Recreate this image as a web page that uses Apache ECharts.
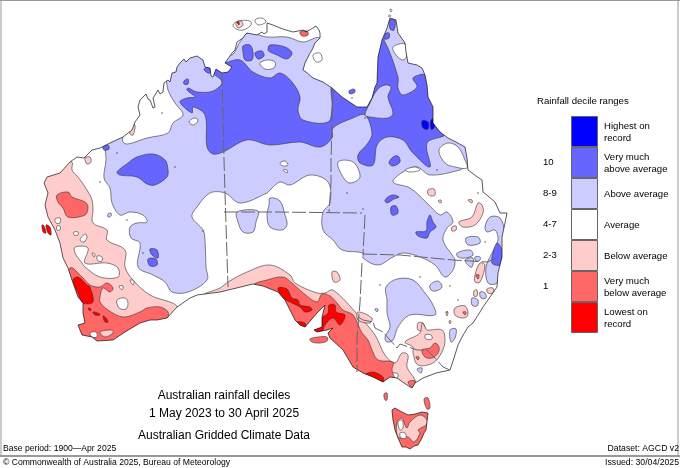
<!DOCTYPE html>
<html>
<head>
<meta charset="utf-8">
<script src="https://cdn.jsdelivr.net/npm/echarts@6/dist/echarts.min.js"></script>
<style>
  html, body { margin: 0; padding: 0; background: #fff; }
  #chart { width: 680px; height: 468px; }
</style>
</head>
<body>
<div id="chart"></div>
<script>
// map outlines are digitised in map-sheet units (0-680 across, 0-468 down)
const mainlandCoast = [[68,268],[63,258],[60,243],[55,230],[48,217],[45,205],[48,193],[44,183],[47,177],[60,173],[70,162],[77,157],[84,158],[92,150],[100,148],[112,142],[123,137],[132,130],[135,122],[140,115],[138,107],[140,100],[146,94],[148,99],[150,100],[153,108],[155,107],[153,98],[155,95],[158,90],[160,94],[163,92],[164,83],[168,80],[170,82],[172,73],[176,72],[177,67],[180,63],[184,59],[186,62],[190,58],[197,56],[203,60],[205,67],[210,68],[211,76],[213,77],[216,69],[222,73],[228,72],[232,67],[225,63],[232,53],[235,50],[237,42],[243,38],[245,35],[247,33],[257,35],[262,32],[264,34],[267,32],[267,23],[273,25],[280,28],[286,30],[293,32],[303,30],[306,32],[313,28],[316,26],[319,30],[320,33],[320,38],[315,43],[312,50],[310,53],[305,63],[303,70],[306,72],[313,78],[323,82],[332,88],[342,97],[357,107],[367,107],[372,98],[375,87],[377,83],[378,57],[382,40],[385,33],[387,28],[390,18],[396,20],[398,33],[405,43],[406,52],[408,63],[417,65],[422,68],[425,75],[427,85],[428,97],[433,107],[433,123],[440,132],[448,138],[456,142],[465,147],[467,158],[468,170],[472,173],[476,176],[482,180],[483,192],[488,196],[495,202],[500,213],[507,213],[505,223],[502,237],[502,257],[498,273],[497,287],[483,307],[480,312],[473,323],[468,327],[462,337],[458,345],[454,358],[450,370],[436,373],[423,378],[415,383],[412,388],[407,385],[397,378],[390,377],[383,382],[373,377],[363,373],[353,367],[343,350],[330,338],[328,333],[333,328],[327,330],[317,332],[314,330],[322,327],[322,317],[325,305],[318,312],[305,327],[300,325],[295,320],[285,300],[278,292],[263,286],[253,284],[220,292],[197,295],[190,298],[177,307],[167,318],[157,320],[150,320],[140,323],[125,332],[113,340],[97,341],[92,337],[82,335],[78,325],[85,323],[83,313],[83,303],[78,297],[72,280]];
const tasmaniaCoast = [[392,410],[395,408],[400,411],[408,415],[415,414],[422,412],[428,413],[427,422],[426,430],[424,433],[422,438],[418,445],[414,446],[410,449],[406,447],[402,447],[398,438],[395,430],[393,420]];

const aboveRegions = [
  [[105,145],[107,142],[122,135],[123,142],[128,144],[147,138],[168,133],[173,123],[183,115],[175,103],[168,90],[166,78],[160,60],[225,50],[232,55],[240,42],[248,33],[267,37],[287,37],[303,42],[320,38],[330,60],[345,90],[365,95],[372,70],[378,30],[385,12],[400,15],[412,55],[432,75],[440,105],[450,125],[470,140],[475,165],[465,167],[460,170],[430,175],[417,167],[403,172],[393,182],[410,188],[427,203],[440,215],[447,212],[453,222],[447,228],[443,240],[452,255],[455,260],[453,270],[445,277],[435,265],[420,257],[403,253],[393,257],[378,265],[363,258],[363,253],[342,250],[333,240],[323,230],[323,212],[330,203],[328,182],[310,175],[290,185],[280,182],[270,190],[267,193],[240,203],[225,193],[210,193],[197,207],[192,217],[203,230],[205,240],[206,267],[207,280],[188,292],[172,292],[165,282],[153,275],[138,267],[140,243],[131,238],[130,227],[137,223],[147,222],[143,215],[130,212],[120,215],[112,203],[110,188],[104,178],[106,160]],
  [[270,198],[280,201],[285,215],[287,225],[282,230],[270,227],[267,215],[269,205]],
  [[237,212],[258,211],[256,222],[253,232],[243,232],[238,222]],
  [[466,238],[478,237],[480,243],[468,245]],
  [[457,253],[470,250],[473,255],[465,258],[458,257]],
  [[465,260],[473,258],[472,267],[468,265]],
  [[475,257],[480,257],[480,260],[476,261]],
  [[485,227],[490,217],[500,218],[505,233],[505,243],[505,262],[497,283],[488,283],[486,267],[492,253],[498,240],[495,230],[487,232]],
  [[430,285],[438,281],[442,287],[436,291],[431,290]],
  [[386,287],[397,279],[413,280],[425,293],[433,305],[435,315],[410,315],[398,327],[393,340],[387,342],[385,337],[390,327],[387,313],[387,300]],
  [[450,330],[456,329],[455,338],[451,342]],
  [[417,369],[422,368],[421,373]],
  [[375,309],[378,309],[377,312]],
  [[472,298],[478,300],[477,306],[472,305]],
  [[480,292],[485,293],[486,298],[481,298]],
  [[108,214],[111,213],[111,216],[108,217]]
];
const belowRegions = [
  [[72,162],[72,170],[78,177],[87,190],[92,200],[93,210],[93,223],[107,230],[107,240],[125,250],[125,267],[133,280],[150,295],[177,306],[173,318],[165,330],[60,350],[30,260],[30,170],[60,155]],
  [[203,295],[220,288],[228,282],[247,272],[270,265],[290,275],[295,283],[317,293],[325,293],[333,290],[358,315],[375,335],[385,355],[395,363],[402,353],[408,355],[407,367],[415,380],[418,395],[380,395],[300,350],[250,300],[205,300]],
  [[85,158],[90,157],[91,162],[87,164]],
  [[131,125],[135,125],[133,135],[130,134]],
  [[459,222],[472,217],[478,203],[482,205],[483,213],[475,225],[463,227]],
  [[452,227],[456,226],[456,230],[452,231]],
  [[428,190],[434,189],[435,195],[431,196],[428,194]],
  [[438,201],[441,200],[441,203]],
  [[468,200],[472,200],[472,203]],
  [[475,275],[480,263],[485,265],[480,282],[475,282]],
  [[474,291],[477,290],[477,296],[474,296]],
  [[487,289],[493,288],[493,293],[488,293]],
  [[455,308],[465,306],[468,315],[463,318],[455,315]],
  [[418,323],[423,323],[425,330],[418,330]],
  [[332,272],[337,272],[340,280],[334,282]],
  [[358,312],[372,318],[370,323],[358,320]],
  [[405,342],[420,333],[422,323],[425,327],[427,330],[442,330],[445,340],[442,352],[433,363],[418,365],[413,353],[413,347]],
  [[446,312],[448,312],[447,316]],
  [[449,321],[451,321],[450,324]]
];
const averageRegions = [
  [[260,63],[268,60],[275,62],[274,68],[265,69]],
  [[238,75],[241,74],[243,77],[240,79]],
  [[189,122],[194,118],[198,120],[194,125]],
  [[393,47],[405,44],[407,55],[403,60],[396,55]],
  [[415,116],[418,113],[419,118],[416,120]],
  [[401,133],[405,132],[405,136]],
  [[419,92],[423,91],[424,95],[420,95]],
  [[280,163],[285,161],[288,165],[283,166]],
  [[283,170],[287,170],[287,173]],
  [[338,162],[353,162],[360,177],[350,183],[343,177]],
  [[405,170],[415,167],[420,170],[410,172]],
  [[439,150],[448,143],[458,147],[465,160],[467,168],[455,167],[445,163]],
  [[55,219],[60,218],[60,223],[56,223]],
  [[57,226],[60,226],[60,230],[57,230]],
  [[74,232],[78,232],[78,235],[74,235]],
  [[80,240],[85,234],[87,237],[84,242]],
  [[75,247],[88,248],[85,263],[107,263],[118,268],[118,277],[100,277],[85,267],[82,263],[75,253]],
  [[92,253],[95,254],[94,257]],
  [[97,256],[102,257],[102,261],[98,261]],
  [[119,286],[123,286],[122,290]],
  [[130,280],[134,281],[133,285]],
  [[117,300],[125,298],[128,303],[126,309],[119,308]],
  [[425,335],[431,335],[432,339],[426,339]],
  [[392,373],[398,374],[397,378],[393,378]]
];
const muchAboveRegions = [
  [[225,63],[240,60],[253,72],[270,78],[280,73],[292,82],[300,97],[298,110],[303,120],[328,122],[332,107],[332,85],[345,90],[368,100],[372,60],[378,40],[384,40],[398,77],[398,88],[403,95],[417,87],[413,78],[427,75],[435,90],[440,110],[438,130],[445,135],[427,143],[430,167],[412,152],[403,140],[387,137],[377,145],[373,165],[360,163],[358,155],[368,143],[372,133],[365,115],[353,118],[333,128],[332,138],[320,147],[300,142],[270,145],[247,140],[223,152],[213,154],[207,147],[205,115],[193,107],[192,113],[180,102],[187,98],[195,97],[187,90],[188,88],[197,92],[213,91],[222,82],[210,70],[220,65]],
  [[243,46],[250,45],[253,52],[252,60],[245,60],[243,52]],
  [[255,53],[262,51],[264,56],[258,59]],
  [[268,50],[270,45],[285,47],[292,53],[287,59],[277,55],[270,52]],
  [[184,81],[188,79],[188,84],[184,84]],
  [[204,69],[210,67],[212,72],[208,73]],
  [[103,146],[108,145],[109,149],[104,150]],
  [[117,172],[128,163],[137,157],[153,154],[165,160],[168,170],[167,177],[155,185],[147,184],[137,177],[120,175]],
  [[150,249],[157,250],[158,258],[152,255]],
  [[148,259],[156,259],[157,265],[150,266]],
  [[390,20],[395,20],[394,30],[390,29]],
  [[385,34],[389,33],[389,38],[384,39]],
  [[385,200],[392,195],[399,197],[394,199],[387,203]],
  [[391,207],[396,206],[398,213],[392,215]],
  [[426,231],[427,222],[430,215],[433,222],[436,227],[430,232],[427,238],[418,236],[416,232]],
  [[492,257],[497,243],[502,250],[502,258],[500,265],[495,265],[492,263]],
  [[393,157],[398,156],[400,162],[393,166],[389,163]]
];
const muchBelowRegions = [
  [[253,285],[267,280],[283,277],[292,283],[302,292],[317,302],[322,294],[330,296],[337,303],[343,310],[353,315],[362,333],[368,340],[372,350],[378,360],[393,362],[392,370],[395,382],[385,385],[360,375],[320,345],[295,325],[270,300],[250,295]],
  [[70,268],[82,277],[90,285],[100,287],[107,283],[113,288],[110,292],[103,288],[100,297],[100,302],[108,310],[123,317],[140,312],[147,308],[160,307],[168,312],[168,320],[170,330],[120,350],[70,345],[60,300]],
  [[57,195],[68,192],[72,197],[85,202],[88,207],[85,215],[68,217],[63,208],[58,202]],
  [[476,275],[479,275],[478,279]],
  [[463,312],[466,312],[465,315]],
  [[422,350],[430,348],[435,343],[439,347],[438,353],[432,358],[425,357]],
  [[416,357],[419,357],[418,360]],
  [[408,382],[415,381],[413,388]]
];
const patchBelowRegions = [
  [[100,332],[112,330],[113,333],[105,337]]
];
const patchAverageRegions = [
  [[90,333],[96,332],[97,337],[92,337]]
];
const patchAboveRegions = [
  [[365,115],[370,103],[377,90],[385,85],[391,87],[388,97],[393,113],[388,118],[370,117]]
];
const lowestRegions = [
  [[278,288],[287,289],[292,298],[298,300],[300,305],[310,307],[312,310],[305,312],[300,307],[292,303],[283,298]],
  [[297,322],[305,323],[305,327],[298,326]],
  [[329,305],[335,305],[336,312],[345,315],[340,325],[333,318],[325,325],[322,332],[315,332],[315,328],[322,327],[322,318],[328,313]],
  [[365,375],[373,372],[383,377],[383,382],[377,380]],
  [[73,280],[78,277],[87,285],[90,287],[93,302],[83,303],[78,293]],
  [[93,312],[98,313],[100,315],[95,315]],
  [[103,316],[106,318],[108,322],[105,322]],
  [[88,308],[91,309],[90,311]]
];
const highestRegions = [
  [[422,121],[428,122],[428,129],[423,128]],
  [[431,120],[435,119],[434,128],[431,129]]
];
const tasmaniaBelow = [[410,422],[420,415],[427,420],[426,425],[418,430],[420,433],[414,442],[408,437],[400,438],[397,435],[397,422],[402,418],[405,425],[407,428]];
const tasmaniaAverage = [
  [[398,422],[402,420],[403,428],[400,430]],
  [[400,433],[405,433],[406,438],[401,438]]
];
// islands that sit outside the mainland outline
const islandAverage = [
  [[233,25],[238,21],[250,21],[251,25],[243,30],[236,29]],
  [[255,20],[262,18],[266,22],[258,25]],
  [[313,55],[320,53],[322,60],[316,62]],
  [[390,9],[392,10],[391,12]],
  [[389,15],[391,16],[389,17]]
];
const islandBelow = [[[236,23],[241,21],[243,25],[238,28]]];
const islandMuchAbove = [[[349,91],[354,89],[355,92],[350,94]]];
const islandMuchBelow = [
  [[310,339],[318,337],[327,337],[327,341],[320,343],[312,342]],
  [[384,394],[387,393],[387,400],[385,400]],
  [[424,399],[428,398],[430,408],[427,409]],
  [[300,32],[307,31],[308,35],[302,36]]
];
const islandLowest = [
  [[42,225],[44,226],[46,233],[43,232]],
  [[46,225],[50,227],[51,235],[48,233]],
  [[237,22],[239,22],[239,25]]
];
// isolated one-cell contours
const specks = [[162,113],[117,153],[175,167],[100,182],[127,220],[203,231],[347,193],[363,209],[380,285],[420,277],[450,286],[458,300],[447,312],[437,170],[478,193],[485,242],[143,253],[365,118],[352,98]];

// state borders
const borderWaNt = [[222,72],[224,160],[225,193],[228,287]];
const borderNtSa = [[224,212],[273,212],[362,213]];
const borderNtQld = [[333,90],[331,160],[331,183],[329,212]];
const borderQldSa = [[365,215],[363,255]];
const borderQldNsw = [[363,254],[400,255],[453,260],[487,262],[497,258]];
const borderSaNsw = [[362,263],[360,303],[357,337],[357,372]];
const borderVicNsw = [[358,317],[363,320],[373,322],[375,328],[383,332],[390,340],[397,348],[400,344],[417,350],[427,350],[435,358],[443,367],[450,370]];
const stateBorders = [borderWaNt, borderNtSa, borderNtQld, borderQldSa, borderQldNsw, borderSaNsw, borderVicNsw];

// legend
const legendTexts = ['Highest on\nrecord', 'Very much\nabove average', 'Above average', 'Average', 'Below average', 'Very much\nbelow average', 'Lowest on\nrecord'];
const decileRanges = ['', '10', '8-9', '4-7', '2-3', '1', ' '];
const legendValues = [1, 1, 1, 1, 1, 1, 1];
const decileColors = ['#0000ff', '#6666ff', '#ccccff', '#ffffff', '#ffcccc', '#ff6666', '#ff0000'];
const HIGHEST = 0, MUCH_ABOVE = 1, ABOVE = 2, AVERAGE = 3, BELOW = 4, MUCH_BELOW = 5, LOWEST = 6;

const marks = [];
function addMarks (level, regions, clip, outlineOnly) {
  regions.forEach(pts => marks.push({ level, pts, clip, outlineOnly }));
}
addMarks(AVERAGE, [mainlandCoast, tasmaniaCoast], null);
addMarks(ABOVE, aboveRegions, mainlandCoast);
addMarks(BELOW, belowRegions, mainlandCoast);
addMarks(AVERAGE, averageRegions, mainlandCoast);
addMarks(MUCH_ABOVE, muchAboveRegions, mainlandCoast);
addMarks(MUCH_BELOW, muchBelowRegions, mainlandCoast);
addMarks(ABOVE, patchAboveRegions, mainlandCoast);
addMarks(BELOW, patchBelowRegions, mainlandCoast);
addMarks(AVERAGE, patchAverageRegions, mainlandCoast);
addMarks(LOWEST, lowestRegions, mainlandCoast);
addMarks(HIGHEST, highestRegions, mainlandCoast);
addMarks(MUCH_BELOW, [tasmaniaCoast], null);
addMarks(BELOW, [tasmaniaBelow], tasmaniaCoast);
addMarks(AVERAGE, tasmaniaAverage, tasmaniaCoast);
addMarks(AVERAGE, islandAverage, null);
addMarks(BELOW, islandBelow, null);
addMarks(MUCH_ABOVE, islandMuchAbove, null);
addMarks(MUCH_BELOW, islandMuchBelow, null);
addMarks(LOWEST, islandLowest, null);
addMarks(AVERAGE, [mainlandCoast, tasmaniaCoast], null, true);

const toPoints = (pts, api) => pts.map(p => api.coord(p));

function renderRegion (params, api) {
  const mark = marks[params.dataIndex];
  const isCoast = mark.pts === mainlandCoast || mark.pts === tasmaniaCoast;
  const el = {
    type: 'polygon',
    shape: { points: toPoints(mark.pts, api), smooth: isCoast ? 0 : 0.35 },
    style: mark.outlineOnly
      ? { fill: 'none', stroke: '#111', lineWidth: 0.7 }
      : { fill: decileColors[mark.level], stroke: isCoast ? 'none' : '#333', lineWidth: 0.6 }
  };
  if (mark.clip) {
    el.clipPath = { type: 'polygon', shape: { points: toPoints(mark.clip, api) } };
  }
  return el;
}

const textStyle = { fontFamily: 'Liberation Sans', color: '#000' };
const mainTitle = size => Object.assign({ fontSize: size, fontWeight: 'normal' }, textStyle);

const myChart = echarts.init(document.getElementById('chart'));
myChart.setOption({
  animation: false,
  backgroundColor: '#fff',
  title: [
    { text: 'Australian rainfall deciles', left: 224, top: 390, textAlign: 'center', padding: 0, textStyle: mainTitle(12) },
    { text: '1 May 2023 to 30 April 2025', left: 224, top: 408, textAlign: 'center', padding: 0, textStyle: mainTitle(12) },
    { text: 'Australian Gridded Climate Data', left: 224, top: 430, textAlign: 'center', padding: 0, textStyle: mainTitle(12) },
    { text: 'Rainfall decile ranges', left: 537, top: 96, padding: 0, textStyle: mainTitle(9.6) },
    { text: 'Base period: 1900\u2014Apr 2025', left: 3, top: 444, padding: 0, textStyle: mainTitle(8.6) },
    { text: 'Dataset: AGCD v2', right: 1, top: 444, padding: 0, textStyle: mainTitle(8.7) },
    { text: '\u00a9 Commonwealth of Australia 2025, Bureau of Meteorology', left: 3, top: 458, padding: 0, textStyle: mainTitle(8.6) },
    { text: 'Issued: 30/04/2025', right: 1, top: 458, padding: 0, textStyle: mainTitle(8.7) }
  ],
  graphic: [
    { type: 'line', shape: { x1: 0, y1: 0.5, x2: 680, y2: 0.5 }, style: { stroke: '#999', lineWidth: 1 } },
    { type: 'line', shape: { x1: 1, y1: 0, x2: 1, y2: 456 }, style: { stroke: '#999', lineWidth: 1 } },
    { type: 'line', shape: { x1: 678, y1: 0, x2: 678, y2: 456 }, style: { stroke: '#999', lineWidth: 1 } },
    { type: 'line', shape: { x1: 0, y1: 456, x2: 680, y2: 456 }, style: { stroke: '#999', lineWidth: 2 } }
  ],
  grid: [
    { left: 0, right: 0, top: 0, bottom: 0 },
    { left: 571, width: 27, top: 116, height: 217 }
  ],
  xAxis: [
    { type: 'value', min: 0, max: 680, show: false },
    { type: 'value', gridIndex: 1, min: 0, max: 1, show: false }
  ],
  yAxis: [
    { type: 'value', min: 0, max: 468, inverse: true, show: false },
    {
      type: 'category',
      gridIndex: 1,
      inverse: true,
      data: decileRanges,
      axisLine: { show: false },
      axisTick: { show: false },
      axisLabel: { interval: 0, align: 'left', margin: 28, fontSize: 9.6, fontFamily: 'Liberation Sans', color: '#000' }
    }
  ],
  series: [
    {
      type: 'custom',
      coordinateSystem: 'cartesian2d',
      clip: false,
      silent: true,
      data: marks.map((m, i) => [i]),
      renderItem: renderRegion,
      z: 2
    },
    {
      type: 'scatter',
      data: specks,
      symbolSize: 1.6,
      silent: true,
      itemStyle: { color: '#333' },
      z: 3
    },
    ...stateBorders.map(border => ({
      type: 'line',
      data: border,
      showSymbol: false,
      silent: true,
      lineStyle: { color: '#666', width: 1, type: [14, 3] },
      z: 3
    })),
    {
      type: 'bar',
      xAxisIndex: 1,
      yAxisIndex: 1,
      barWidth: '100%',
      silent: true,
      data: legendValues.map((v, i) => ({ value: v, itemStyle: { color: decileColors[i] } })),
      itemStyle: { borderColor: '#666', borderWidth: 1 },
      label: {
        show: true,
        position: 'right',
        distance: 6,
        offset: [0, 1],
        fontSize: 9.6,
        lineHeight: 12,
        fontFamily: 'Liberation Sans',
        color: '#000',
        formatter: p => legendTexts[p.dataIndex]
      }
    }
  ]
});
</script>
</body>
</html>
